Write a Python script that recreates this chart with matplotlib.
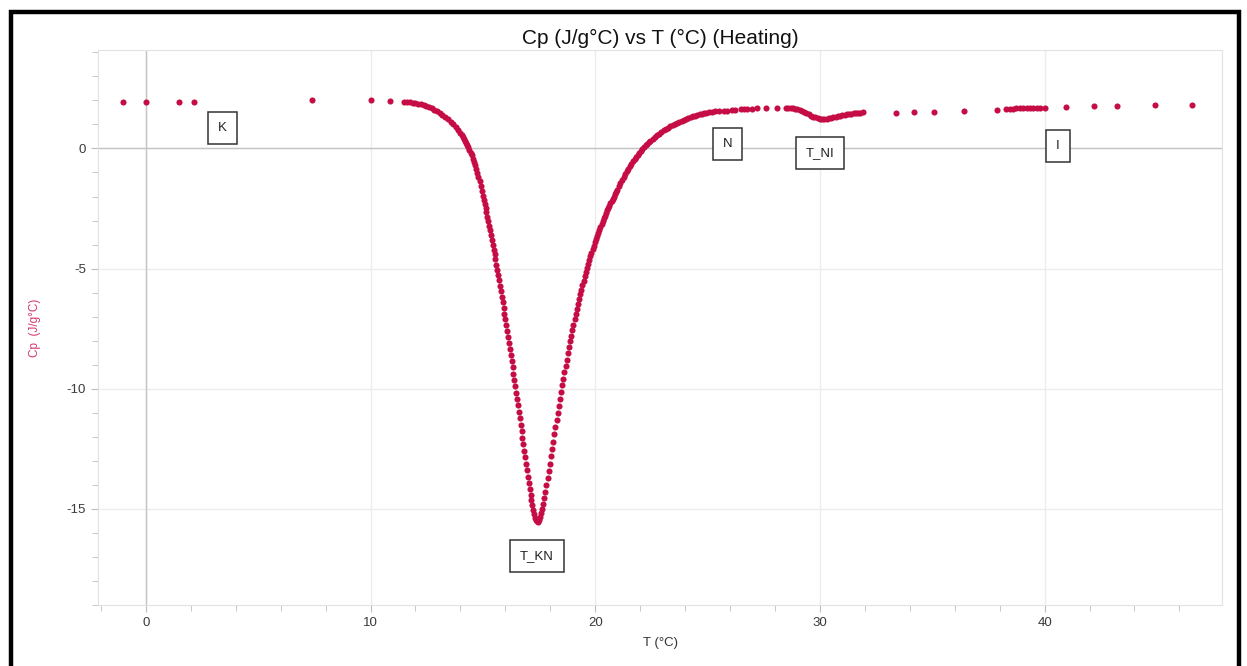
import matplotlib.pyplot as plt
from matplotlib.patches import Rectangle
from matplotlib.ticker import MultipleLocator

plt.rcParams['font.family'] = ['Liberation Sans', 'DejaVu Sans']
plt.rcParams['axes.unicode_minus'] = False

# datos: T (°C) y Cp (J/g°C)
t_solido = [-1.02, 0.0, 1.47, 2.13, 7.41, 10.04, 10.86]
cp_solido = [1.95, 1.94, 1.95, 1.95, 2.02, 2.00, 1.98]

t_bajada = [11.48, 11.62, 11.75, 11.88, 12.0, 12.12, 12.24, 12.36, 12.48, 12.6, 12.72,
            12.84, 12.96, 13.08, 13.2, 13.32, 13.44, 13.56, 13.68, 13.8, 13.9, 14.0,
            14.05, 14.10, 14.15, 14.20, 14.25, 14.30, 14.35, 14.40, 14.45, 14.50,
            14.55, 14.60, 14.65, 14.70, 14.75, 14.80, 14.85, 14.90, 14.95,
            15.00, 15.04, 15.08, 15.12, 15.16, 15.20, 15.24, 15.28, 15.32, 15.36,
            15.40, 15.44, 15.48, 15.52, 15.56, 15.60, 15.64, 15.68, 15.72, 15.76,
            15.80, 15.84, 15.88, 15.92, 15.96, 16.00, 16.04, 16.08, 16.12, 16.16,
            16.20, 16.24, 16.28, 16.32, 16.36, 16.40, 16.44, 16.48, 16.52, 16.56,
            16.60, 16.64, 16.68, 16.72, 16.76, 16.80, 16.84, 16.88, 16.92, 16.96,
            17.00, 17.04, 17.08, 17.12, 17.16, 17.20, 17.24, 17.28, 17.32, 17.36,
            17.40, 17.44]
cp_bajada = [1.95, 1.94, 1.93, 1.91, 1.89, 1.86, 1.83, 1.80, 1.76, 1.72, 1.67,
             1.61, 1.54, 1.47, 1.39, 1.31, 1.22, 1.12, 1.02, 0.90, 0.78, 0.65,
             0.56, 0.47, 0.40, 0.33, 0.24, 0.15, 0.06, -0.05, -0.17, -0.29,
             -0.42, -0.56, -0.70, -0.85, -1.01, -1.18, -1.36, -1.55, -1.75,
             -1.96, -2.13, -2.30, -2.48, -2.66, -2.84, -3.02, -3.21, -3.40, -3.60,
             -3.80, -4.00, -4.21, -4.41, -4.62, -4.84, -5.06, -5.27, -5.49, -5.72,
             -5.94, -6.17, -6.40, -6.64, -6.87, -7.11, -7.35, -7.60, -7.84, -8.09,
             -8.34, -8.60, -8.85, -9.11, -9.37, -9.63, -9.89, -10.16, -10.42, -10.69,
             -10.96, -11.23, -11.50, -11.77, -12.05, -12.32, -12.59, -12.86, -13.13, -13.40,
             -13.66, -13.92, -14.17, -14.41, -14.64, -14.85, -15.05, -15.22, -15.36, -15.46,
             -15.52, -15.53]

t_subida = [17.48, 17.53, 17.58, 17.63, 17.68, 17.73, 17.78, 17.83, 17.88, 17.93,
            17.98, 18.03, 18.08, 18.13, 18.18, 18.23, 18.28, 18.33, 18.38, 18.43,
            18.48, 18.53, 18.58, 18.63, 18.68, 18.73, 18.78, 18.83, 18.88, 18.93,
            18.98, 19.03, 19.08, 19.13, 19.18, 19.23, 19.28, 19.33, 19.38, 19.43,
            19.48, 19.53, 19.58, 19.63, 19.68, 19.73, 19.78, 19.83, 19.88, 19.93,
            19.98, 20.03, 20.08, 20.13, 20.18, 20.23, 20.28, 20.33, 20.38, 20.43,
            20.48, 20.53, 20.58, 20.63, 20.68, 20.73, 20.78, 20.83, 20.88, 20.93,
            20.98, 21.05, 21.12, 21.19, 21.26, 21.33, 21.40, 21.47, 21.54, 21.61,
            21.68, 21.75, 21.82, 21.89, 21.96, 22.03, 22.10, 22.17, 22.24, 22.31,
            22.38, 22.45, 22.55, 22.65, 22.75, 22.85, 22.95, 23.05, 23.15, 23.25,
            23.35, 23.45, 23.55, 23.65, 23.75, 23.85, 23.95, 24.05, 24.15, 24.25,
            24.35, 24.45, 24.55, 24.65, 24.75, 24.85, 24.95, 25.05]
cp_subida = [-15.45, -15.33, -15.19, -15.02, -14.80, -14.56, -14.30, -14.02, -13.73, -13.43,
             -13.12, -12.81, -12.50, -12.20, -11.90, -11.60, -11.30, -11.00, -10.71, -10.42,
             -10.14, -9.86, -9.59, -9.32, -9.05, -8.79, -8.53, -8.28, -8.03, -7.79,
             -7.56, -7.33, -7.11, -6.89, -6.68, -6.47, -6.27, -6.07, -5.88, -5.69,
             -5.50, -5.32, -5.15, -4.98, -4.81, -4.65, -4.49, -4.34, -4.19, -4.05,
             -3.91, -3.77, -3.64, -3.51, -3.38, -3.26, -3.14, -3.02, -2.91, -2.80,
             -2.69, -2.58, -2.48, -2.38, -2.28, -2.18, -2.09, -2.00, -1.91, -1.82,
             -1.74, -1.55, -1.42, -1.30, -1.18, -1.06, -0.95, -0.84, -0.73, -0.63,
             -0.53, -0.44, -0.35, -0.26, -0.18, -0.10, -0.02, 0.06, 0.13, 0.20,
             0.26, 0.32, 0.40, 0.48, 0.55, 0.62, 0.69, 0.75, 0.81, 0.87,
             0.93, 0.98, 1.03, 1.08, 1.12, 1.16, 1.20, 1.24, 1.27, 1.31,
             1.34, 1.37, 1.39, 1.42, 1.44, 1.46, 1.48, 1.50]

t_nematico = [25.2, 25.35, 25.5, 25.75, 25.85, 26.1, 26.2, 26.5, 26.6, 26.75, 27.0,
              27.2, 27.6, 28.1, 28.5, 28.6,
              28.70, 28.80, 28.90, 29.00, 29.10, 29.20, 29.30, 29.40, 29.50, 29.60,
              29.70, 29.80, 29.90, 30.00, 30.10, 30.20, 30.30, 30.40, 30.50, 30.60,
              30.70, 30.80, 30.90, 31.00, 31.10, 31.20, 31.30, 31.40, 31.50, 31.60,
              31.70, 31.80, 31.90]
cp_nematico = [1.52, 1.54, 1.55, 1.57, 1.58, 1.60, 1.61, 1.63, 1.64, 1.65, 1.66,
               1.67, 1.68, 1.68, 1.68, 1.68,
               1.67, 1.67, 1.66, 1.64, 1.61, 1.57, 1.52, 1.47, 1.42, 1.37,
               1.33, 1.29, 1.26, 1.24, 1.23, 1.23, 1.24, 1.26, 1.28, 1.30,
               1.32, 1.34, 1.36, 1.38, 1.40, 1.42, 1.43, 1.45, 1.46, 1.47,
               1.48, 1.49, 1.50]

t_isotropo = [33.4, 34.2, 35.1, 36.4, 37.9, 38.3, 38.45, 38.6, 38.75, 38.9, 39.05,
              39.2, 39.35, 39.5, 39.65, 39.8, 40.0, 40.96, 42.2, 43.24, 44.93, 46.58]
cp_isotropo = [1.48, 1.50, 1.52, 1.55, 1.62, 1.65, 1.66, 1.66, 1.67, 1.67, 1.68,
               1.68, 1.68, 1.69, 1.69, 1.70, 1.70, 1.74, 1.76, 1.78, 1.80, 1.82]

etiquetas = ['K', 'T_KN', 'N', 'T_NI', 'I']
etiq_x = [3.4, 17.4, 25.9, 30.0, 40.6]
etiq_y = [0.85, -16.95, 0.2, -0.2, 0.1]

T = t_solido + t_bajada + t_subida + t_nematico + t_isotropo
Cp = cp_solido + cp_bajada + cp_subida + cp_nematico + cp_isotropo

fig = plt.figure(figsize=(12.47, 6.66), dpi=100)
ax = fig.add_axes([0.0786, 0.0916, 0.9014, 0.8334])

rojo = '#C50C45'
ax.plot(T, Cp, 'o', color=rojo, markersize=4.4, markeredgewidth=0)

ax.set_xlim(-2.13, 47.9)
ax.set_ylim(-19.0, 4.1)
ax.xaxis.set_major_locator(MultipleLocator(10))
ax.xaxis.set_minor_locator(MultipleLocator(2))
ax.yaxis.set_major_locator(MultipleLocator(5))
ax.yaxis.set_minor_locator(MultipleLocator(1))
ax.grid(True, which='major', color='#ececec', linewidth=1.0)
ax.set_axisbelow(True)
ax.axhline(0, color='#c4c4c4', linewidth=1.0, zorder=1)
ax.axvline(0, color='#c4c4c4', linewidth=1.0, zorder=1)
for s in ax.spines.values():
    s.set_color('#e2e2e2')
ax.tick_params(which='both', colors='#bdbdbd', labelcolor='#3a3a3a', labelsize=9.5)
ax.tick_params(which='major', length=5)
ax.tick_params(which='minor', length=4)

ax.set_title('Cp (J/g°C) vs T (°C) (Heating)', fontsize=15, color='#111111', pad=4)
ax.set_xlabel('T (°C)', fontsize=9.5, color='#333333', labelpad=6)
ax.set_ylabel('Cp  (J/g°C)', fontsize=8.5, color='#D8336A')
ax.yaxis.set_label_coords(-0.051, 0.5)

for txt, x, y in zip(etiquetas, etiq_x, etiq_y):
    ax.text(x, y, txt, fontsize=9.5, ha='center', va='center', color='#222222',
            bbox=dict(boxstyle='square,pad=0.75', fc='white', ec='#333333', lw=1.1))

# marco negro exterior
fig.patches.append(Rectangle((0.0085, -0.05), 0.985, 1.032, transform=fig.transFigure,
                             fill=False, ec='black', lw=3.2))

fig.savefig('out.png', dpi=100)
